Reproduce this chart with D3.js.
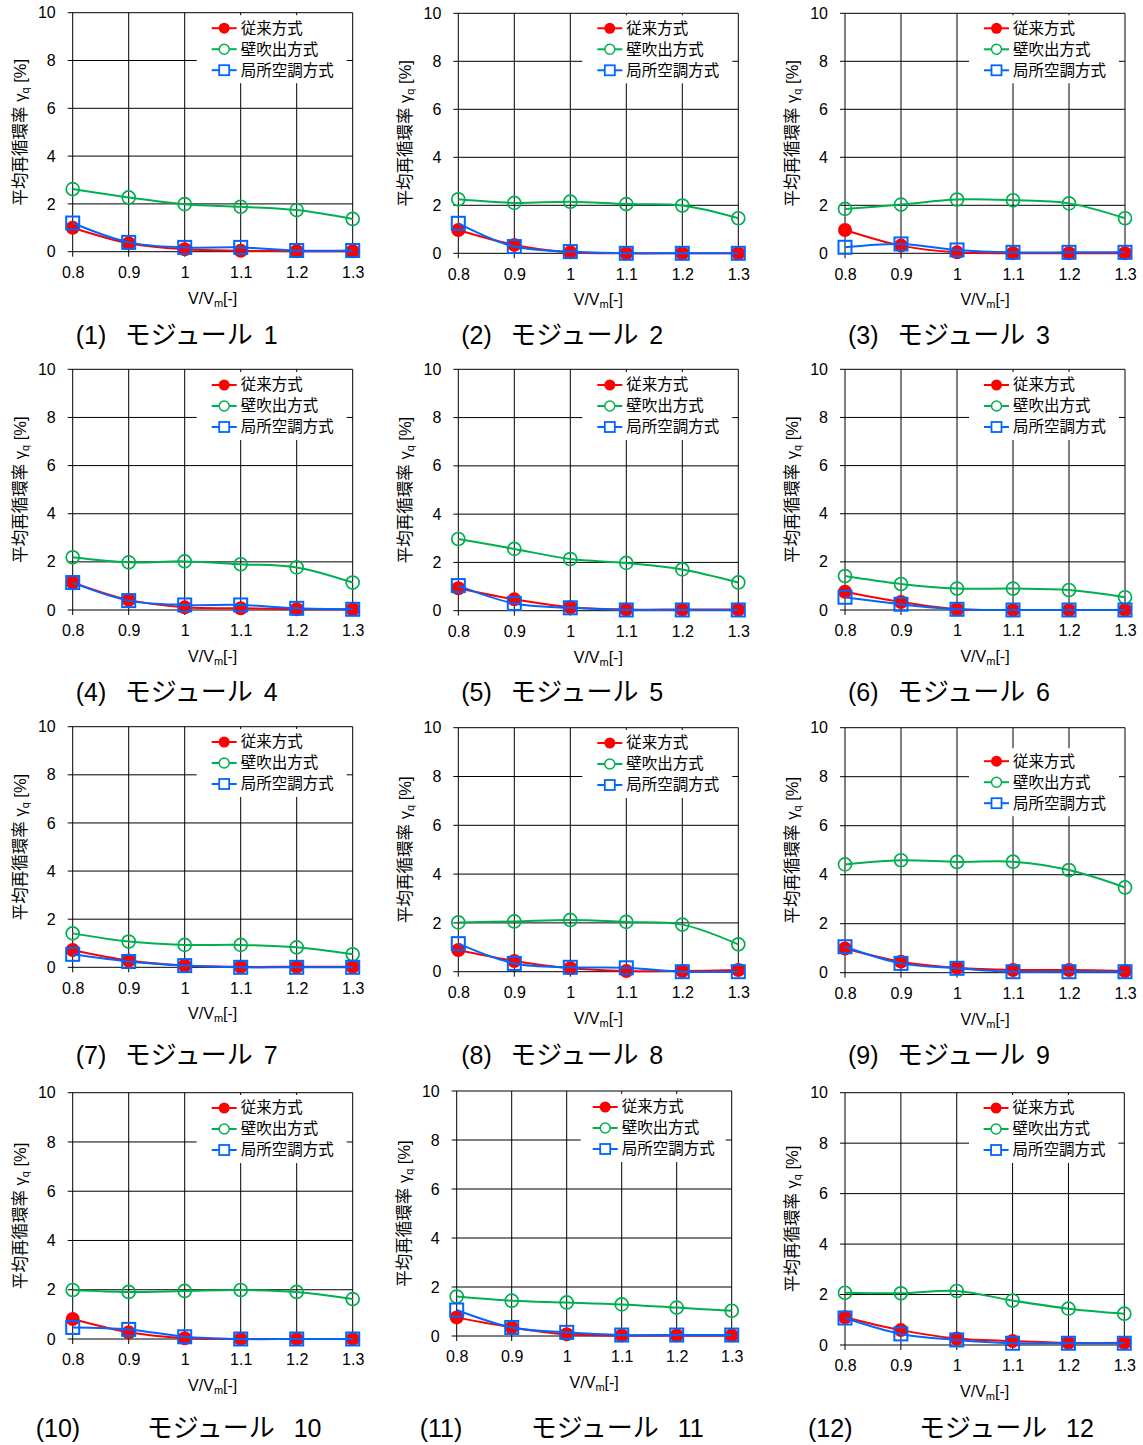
<!DOCTYPE html>
<html>
<head>
<meta charset="utf-8">
<script src="https://cdn.jsdelivr.net/npm/d3@7"></script>
<style>
  body { margin: 0; background: #fff; }
  text { font-family: "Liberation Sans", Arial, "Noto Sans CJK JP", sans-serif; }
</style>
</head>
<body>
<script>
// x categories and tick labels
var xVals = [0.8, 0.9, 1.0, 1.1, 1.2, 1.3];
var xTickLabels = ["0.8", "0.9", "1", "1.1", "1.2", "1.3"];
var yTicks = [0, 2, 4, 6, 8, 10];
var seriesNames = ["従来方式", "壁吹出方式", "局所空調方式"];
var moduleNames = ["1", "2", "3", "4", "5", "6", "7", "8", "9", "10", "11", "12"];

// 従来方式 (one row per module)
var conventional = [
  [1.00, 0.35, 0.10, 0.04, 0.02, 0.02],
  [0.97, 0.35, 0.04, 0.00, 0.00, 0.00],
  [0.97, 0.32, 0.04, 0.00, 0.00, 0.00],
  [1.15, 0.42, 0.11, 0.07, 0.03, 0.03],
  [0.93, 0.47, 0.14, 0.05, 0.05, 0.05],
  [0.76, 0.33, 0.03, 0.00, 0.00, 0.00],
  [0.72, 0.28, 0.07, 0.02, 0.02, 0.02],
  [0.89, 0.44, 0.14, 0.03, 0.03, 0.07],
  [0.99, 0.45, 0.20, 0.11, 0.11, 0.07],
  [0.81, 0.27, 0.03, 0.00, 0.00, 0.00],
  [0.76, 0.35, 0.07, 0.02, 0.02, 0.02],
  [1.10, 0.59, 0.26, 0.16, 0.09, 0.09]
];

// 壁吹出方式
var wallOutlet = [
  [2.62, 2.27, 1.99, 1.88, 1.74, 1.37],
  [2.25, 2.10, 2.15, 2.05, 1.99, 1.46],
  [1.85, 2.03, 2.24, 2.21, 2.08, 1.46],
  [2.19, 1.98, 2.02, 1.90, 1.77, 1.14],
  [2.97, 2.56, 2.14, 1.98, 1.71, 1.17],
  [1.41, 1.08, 0.89, 0.89, 0.83, 0.53],
  [1.41, 1.07, 0.93, 0.93, 0.83, 0.54],
  [2.02, 2.06, 2.12, 2.04, 1.93, 1.12],
  [4.42, 4.59, 4.52, 4.53, 4.19, 3.48],
  [1.99, 1.91, 1.95, 1.99, 1.91, 1.62],
  [1.61, 1.44, 1.37, 1.29, 1.16, 1.03],
  [2.07, 2.05, 2.14, 1.76, 1.44, 1.24]
];

// 局所空調方式
var localAC = [
  [1.20, 0.39, 0.18, 0.18, 0.05, 0.05],
  [1.25, 0.28, 0.07, 0.00, 0.00, 0.00],
  [0.25, 0.39, 0.14, 0.04, 0.04, 0.04],
  [1.14, 0.39, 0.21, 0.21, 0.07, 0.03],
  [1.04, 0.30, 0.12, 0.03, 0.03, 0.03],
  [0.53, 0.24, 0.03, 0.00, 0.00, 0.00],
  [0.54, 0.24, 0.07, 0.00, 0.00, 0.00],
  [1.15, 0.34, 0.18, 0.16, 0.00, 0.00],
  [1.06, 0.38, 0.18, 0.04, 0.04, 0.04],
  [0.47, 0.39, 0.09, 0.00, 0.00, 0.00],
  [1.06, 0.35, 0.15, 0.04, 0.04, 0.04],
  [1.07, 0.44, 0.20, 0.07, 0.07, 0.07]
];

// plot frames (layout only)
var frames = [
  {l: 72.7, r: 352.7, t: 12.7, b: 251.7, leg: 15.5},
  {l: 458.3, r: 738.3, t: 13.3, b: 253.3, leg: 15},
  {l: 845, r: 1125, t: 13.3, b: 253.3, leg: 15},
  {l: 72.7, r: 352.7, t: 369.3, b: 610, leg: 15.7},
  {l: 458.3, r: 738.3, t: 369.3, b: 610.7, leg: 15.7},
  {l: 845, r: 1125, t: 369.3, b: 610, leg: 15.7},
  {l: 72.7, r: 352.7, t: 726.7, b: 967.3, leg: 15.3},
  {l: 458.3, r: 738.3, t: 727.7, b: 971.7, leg: 15.3},
  {l: 845, r: 1125, t: 727.7, b: 972.7, leg: 33.5},
  {l: 72.7, r: 352.7, t: 1092.7, b: 1339, leg: 15.3},
  {l: 456.7, r: 731.7, t: 1091, b: 1336, leg: 16},
  {l: 845, r: 1124.3, t: 1092.7, b: 1345, leg: 15.3}
];

// caption centre line per row
var captionRowY = [335, 692, 1055, 1428];

var red = "#FF0000", green = "#00B050", blue = "#0066FF";

var svg = d3.select("body")
            .append("svg")
            .attr("width", 1143)
            .attr("height", 1445);

frames.forEach(function(p, i) {
    var g = svg.append("g");

    var xScale = d3.scaleLinear().domain([0.8, 1.3]).range([p.l, p.r]);
    var yScale = d3.scaleLinear().domain([0, 10]).range([p.b, p.t]);

    // grid lines (with small outward ticks)
    g.selectAll(".hgrid").data(yTicks).enter().append("line")
     .attr("x1", p.l - 5).attr("x2", p.r)
     .attr("y1", d => yScale(d)).attr("y2", d => yScale(d))
     .attr("stroke", "#000").attr("stroke-width", 1);

    g.selectAll(".vgrid").data(xVals).enter().append("line")
     .attr("x1", d => xScale(d)).attr("x2", d => xScale(d))
     .attr("y1", p.t).attr("y2", p.b + 5)
     .attr("stroke", "#000").attr("stroke-width", 1);

    // axes for tick labels only
    var xAxis = d3.axisBottom(xScale).tickValues(xVals)
                  .tickFormat((d, j) => xTickLabels[j]).tickSize(0).tickPadding(15);
    var yAxis = d3.axisLeft(yScale).tickValues(yTicks).tickSize(0).tickPadding(17);

    var gx = g.append("g").attr("transform", `translate(0, ${p.b})`).call(xAxis);
    var gy = g.append("g").attr("transform", `translate(${p.l}, 0)`).call(yAxis);
    [gx, gy].forEach(function(a) {
        a.select(".domain").remove();
        a.selectAll("line").remove();
        a.selectAll("text").style("font-size", "16px").attr("fill", "#000");
        a.attr("font-family", null);
    });

    // axis titles
    var xt = g.append("text")
              .attr("x", (p.l + p.r) / 2).attr("y", p.b + 52)
              .attr("text-anchor", "middle").style("font-size", "16px");
    xt.append("tspan").text("V/V");
    xt.append("tspan").text("m").style("font-size", "11px").attr("dy", 3);
    xt.append("tspan").text("[-]").attr("dy", -3);

    var cy = (p.t + p.b) / 2;
    var yt = g.append("text")
              .attr("transform", `translate(${p.l - 47}, ${cy}) rotate(-90)`)
              .attr("text-anchor", "middle").style("font-size", "16.5px");
    yt.append("tspan").text("平均再循環率 γ");
    yt.append("tspan").text("q").style("font-size", "11px").attr("dy", 3);
    yt.append("tspan").text(" [%]").attr("dy", -3);

    // legend
    var lx = p.l + (p.r - p.l) * 0.6;
    var ly = p.t + p.leg;
    g.append("rect")
     .attr("x", p.l + 124).attr("y", ly - 13)
     .attr("width", p.r - 6 - (p.l + 124)).attr("height", 42 + 26)
     .attr("fill", "#fff");

    var colors = [red, green, blue];
    seriesNames.forEach(function(name, k) {
        var yy = ly + k * 21;
        g.append("line").attr("x1", lx - 29).attr("x2", lx - 4)
         .attr("y1", yy).attr("y2", yy)
         .attr("stroke", colors[k]).attr("stroke-width", 2);
        var mx = lx - 16.5;
        if (k === 0) {
            g.append("circle").attr("cx", mx).attr("cy", yy).attr("r", 5.5).attr("fill", red);
        } else if (k === 1) {
            g.append("circle").attr("cx", mx).attr("cy", yy).attr("r", 5)
             .attr("fill", "#fff").attr("stroke", green).attr("stroke-width", 1.5);
        } else {
            g.append("rect").attr("x", mx - 5).attr("y", yy - 5).attr("width", 10).attr("height", 10)
             .attr("fill", "#fff").attr("stroke", blue).attr("stroke-width", 1.8);
        }
        g.append("text").attr("x", lx).attr("y", yy).attr("dy", "0.35em")
         .style("font-size", "15.5px").text(name);
    });

    // series
    var line = d3.line()
                 .x((d, j) => xScale(xVals[j]))
                 .y(d => yScale(d))
                 .curve(d3.curveCatmullRom.alpha(0.5));

    // 従来方式
    g.append("path").attr("d", line(conventional[i]))
     .attr("fill", "none").attr("stroke", red).attr("stroke-width", 2);
    g.selectAll(".c").data(conventional[i]).enter().append("circle")
     .attr("cx", (d, j) => xScale(xVals[j])).attr("cy", d => yScale(d))
     .attr("r", 7).attr("fill", red);

    // 壁吹出方式
    g.append("path").attr("d", line(wallOutlet[i]))
     .attr("fill", "none").attr("stroke", green).attr("stroke-width", 2);
    g.selectAll(".w").data(wallOutlet[i]).enter().append("circle")
     .attr("cx", (d, j) => xScale(xVals[j])).attr("cy", d => yScale(d))
     .attr("r", 6.5).attr("fill", "none").attr("stroke", green).attr("stroke-width", 1.7);

    // 局所空調方式
    g.append("path").attr("d", line(localAC[i]))
     .attr("fill", "none").attr("stroke", blue).attr("stroke-width", 2);
    g.selectAll(".s").data(localAC[i]).enter().append("rect")
     .attr("x", (d, j) => xScale(xVals[j]) - 6.5).attr("y", d => yScale(d) - 6.5)
     .attr("width", 13).attr("height", 13)
     .attr("fill", "none").attr("stroke", blue).attr("stroke-width", 2);

    // caption: "(n)", "モジュール", "n"
    var row = Math.floor(i / 3);
    var capY = captionRowY[row] + 9;
    var px, mx2;
    if (row < 3) { px = p.l + 3; mx2 = p.l + 52; }
    else { px = p.l - 37; mx2 = p.l + 74; }
    g.append("text").attr("x", px).attr("y", capY)
     .style("font-size", "25px").text("(" + moduleNames[i] + ")");
    g.append("text").attr("x", mx2).attr("y", capY)
     .style("font-size", "26px").text("モジュール");
    g.append("text").attr("x", mx2 + (row < 3 ? 139 : 147)).attr("y", capY)
     .style("font-size", "25px").text(moduleNames[i]);
});
</script>
</body>
</html>
